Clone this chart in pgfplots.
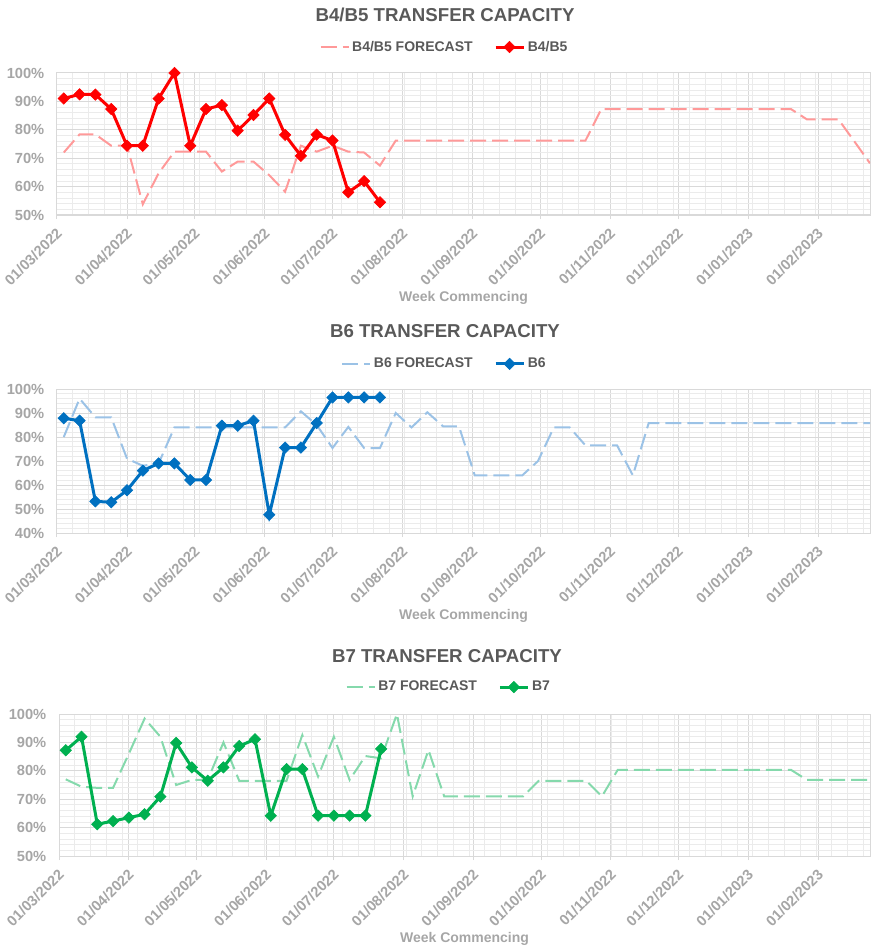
\documentclass[border=0pt]{standalone}
\usepackage{pgfplots}
\pgfplotsset{compat=1.18}
\usepackage{pgfplotstable}
\usepackage{fontspec}
\setmainfont{Liberation Sans}

\definecolor{titlegrey}{HTML}{595959}
\definecolor{tickgrey}{HTML}{A6A6A6}
\definecolor{gridmaj}{HTML}{D9D9D9}
\definecolor{gridmin}{HTML}{EBEBEB}
\definecolor{redact}{HTML}{FF0000}
\definecolor{redfc}{HTML}{FF9999}
\definecolor{blueact}{HTML}{0070C0}
\definecolor{bluefc}{HTML}{9BC2E6}
\definecolor{greenact}{HTML}{00B050}
\definecolor{greenfc}{HTML}{85D9AC}

% day = days since 01/03/2022, weekly
\pgfplotstableread{
day fc act
3 72 91
10 78.4 92.5
17 78.4 92.4
24 74.4 87.3
31 74.4 74.4
38 53.8 74.4
45 64.7 91
52 72.3 100
59 72.3 74.4
66 72.3 87.3
73 65.3 88.7
80 68.8 79.7
87 68.8 85.2
94 64 91
101 58.2 78.2
108 74.4 70.8
115 72.3 78.3
122 74.4 76.2
129 72.3 58
136 72 61.9
143 67.4 54.5
150 76.2 nan
157 76.2 nan
164 76.2 nan
171 76.2 nan
178 76.2 nan
185 76.2 nan
192 76.2 nan
199 76.2 nan
206 76.2 nan
213 76.2 nan
220 76.2 nan
227 76.2 nan
234 76.2 nan
241 87.3 nan
248 87.3 nan
255 87.3 nan
262 87.3 nan
269 87.3 nan
276 87.3 nan
283 87.3 nan
290 87.3 nan
297 87.3 nan
304 87.3 nan
311 87.3 nan
318 87.3 nan
325 87.3 nan
332 83.7 nan
339 83.7 nan
346 83.7 nan
353 76 nan
360 68.2 nan
}\tabA

\pgfplotstableread{
day fc act
3 80 87.8
10 96 86.8
17 88.2 53.2
24 88.2 52.8
31 71 57.8
38 68 66
45 69 69
52 84 69
59 84 62.1
66 84 62.1
73 84 84.7
80 84 84.7
87 84 86.8
94 84 47.6
101 84 75.6
108 90.7 75.6
115 85 85.8
122 75.4 96.5
129 84.2 96.5
136 75.4 96.5
143 75.4 96.5
150 90 nan
157 84 nan
164 90.3 nan
171 84.4 nan
178 84.4 nan
185 64 nan
192 64 nan
199 64 nan
206 64 nan
213 70 nan
220 84 nan
227 84 nan
234 76.5 nan
241 76.5 nan
248 76.5 nan
255 64 nan
262 85.8 nan
269 85.8 nan
276 85.8 nan
283 85.8 nan
290 85.8 nan
297 85.8 nan
304 85.8 nan
311 85.8 nan
318 85.8 nan
325 85.8 nan
332 85.8 nan
339 85.8 nan
346 85.8 nan
353 85.8 nan
360 85.8 nan
}\tabB

\pgfplotstableread{
day fc act
3 77 87.2
10 74.4 92
17 74 61.2
24 74 62.3
31 86 63.5
38 98.4 64.7
45 92 70.9
52 75 89.8
59 76.8 81.2
66 76.8 76.5
73 90 81.2
80 76.5 88.7
87 76.5 91.1
94 76.5 64.2
101 76.5 80.6
108 92.6 80.6
115 78 64.2
122 92 64.2
129 76.8 64.2
136 85.2 64.2
143 84.4 87.7
150 100 nan
157 71 nan
164 87.3 nan
171 71 nan
178 71 nan
185 71 nan
192 71 nan
199 71 nan
206 71 nan
213 76.5 nan
220 76.5 nan
227 76.5 nan
234 76.5 nan
241 71 nan
248 80.3 nan
255 80.3 nan
262 80.3 nan
269 80.3 nan
276 80.3 nan
283 80.3 nan
290 80.3 nan
297 80.3 nan
304 80.3 nan
311 80.3 nan
318 80.3 nan
325 80.3 nan
332 76.8 nan
339 76.8 nan
346 76.8 nan
353 76.8 nan
360 76.8 nan
}\tabC

\pgfplotsset{
  capstyle/.style={
    scale only axis,
    anchor=north west,
    xmin=0, xmax=360,
    xtick={0,31,61,92,122,153,184,214,245,275,306,337},
    xticklabels={01/03/2022,01/04/2022,01/05/2022,01/06/2022,01/07/2022,01/08/2022,01/09/2022,01/10/2022,01/11/2022,01/12/2022,01/01/2023,01/02/2023},
    minor xtick={7,14,...,357},
    minor y tick num=4,
    grid=both,
    major grid style={gridmaj, line width=0.75pt},
    minor grid style={gridmin, line width=0.6pt},
    axis line style={gridmaj, line width=0.75pt},
    tick align=outside,
    xtick pos=bottom, ytick pos=left,
    major tick length=3pt, minor tick length=0pt,
    xtick style={gridmaj, line width=0.75pt},
    ytick style={draw=none},
    /pgf/number format/assume math mode=true,
    yticklabel={\pgfmathprintnumber{\tick}\%},
    ticklabel style={font=\fontsize{11}{13}\selectfont\bfseries, text=tickgrey},
    xticklabel style={xshift=2.5pt, yshift=-8pt, rotate=45, anchor=east, inner sep=1pt},
    yticklabel style={xshift=-3pt},
    xlabel={Week Commencing},
    xlabel style={font=\fontsize{10.5}{12}\selectfont\bfseries, text=tickgrey,
      at={(axis description cs:0.5,0)}, anchor=center, yshift=-62.25pt},
    legend columns=2,
    legend style={draw=none, fill=none,
      font=\fontsize{10.5}{12}\selectfont\bfseries\color{titlegrey},
      /tikz/every even column/.append style={column sep=14pt}},
    legend image code/.code={\draw[mark repeat=2, mark phase=2, ##1]
      plot coordinates {(0pt,0pt) (10.5pt,0pt) (21pt,0pt)};},
  },
  fc/.style={line width=1.5pt, dash pattern=on 12pt off 4.5pt, mark=none},
  act/.style={line width=2.25pt, mark=square*, mark size=3pt,
    mark options={rotate=45, solid, line width=0.5pt}},
}

\begin{document}
\begin{tikzpicture}
\useasboundingbox (0,0) rectangle (653.25pt,-714pt);

\node[font=\fontsize{14}{16}\selectfont\bfseries, text=titlegrey] at (333.75pt,-11.25pt) {B4/B5 TRANSFER CAPACITY};
\begin{axis}[capstyle, at={(42.75pt,-54.75pt)}, width=609.75pt, height=106.5pt,
  ymin=50, ymax=100, ytick={50,60,...,100},
  legend style={at={(0.477,1.183)}, anchor=center}]
\addplot[redfc, fc] table[x=day, y=fc] {\tabA};
\addlegendentry{B4/B5 FORECAST}
\addplot[redact, act] table[x=day, y=act] {\tabA};
\addlegendentry{B4/B5}
\end{axis}

\node[font=\fontsize{14}{16}\selectfont\bfseries, text=titlegrey] at (333.75pt,-248.25pt) {B6 TRANSFER CAPACITY};
\begin{axis}[capstyle, at={(42.75pt,-291.75pt)}, width=609.75pt, height=108pt,
  ymin=40, ymax=100, ytick={40,50,...,100},
  legend style={at={(0.477,1.174)}, anchor=center}]
\addplot[bluefc, fc] table[x=day, y=fc] {\tabB};
\addlegendentry{B6 FORECAST}
\addplot[blueact, act] table[x=day, y=act] {\tabB};
\addlegendentry{B6}
\end{axis}

\node[font=\fontsize{14}{16}\selectfont\bfseries, text=titlegrey] at (335.25pt,-492pt) {B7 TRANSFER CAPACITY};
\begin{axis}[capstyle, at={(44.25pt,-535.5pt)}, width=608.25pt, height=106.5pt,
  ymin=50, ymax=100, ytick={50,60,...,100},
  legend style={at={(0.481,1.19)}, anchor=center}]
\addplot[greenfc, fc] table[x=day, y=fc] {\tabC};
\addlegendentry{B7 FORECAST}
\addplot[greenact, act] table[x=day, y=act] {\tabC};
\addlegendentry{B7}
\end{axis}
\end{tikzpicture}
\end{document}
